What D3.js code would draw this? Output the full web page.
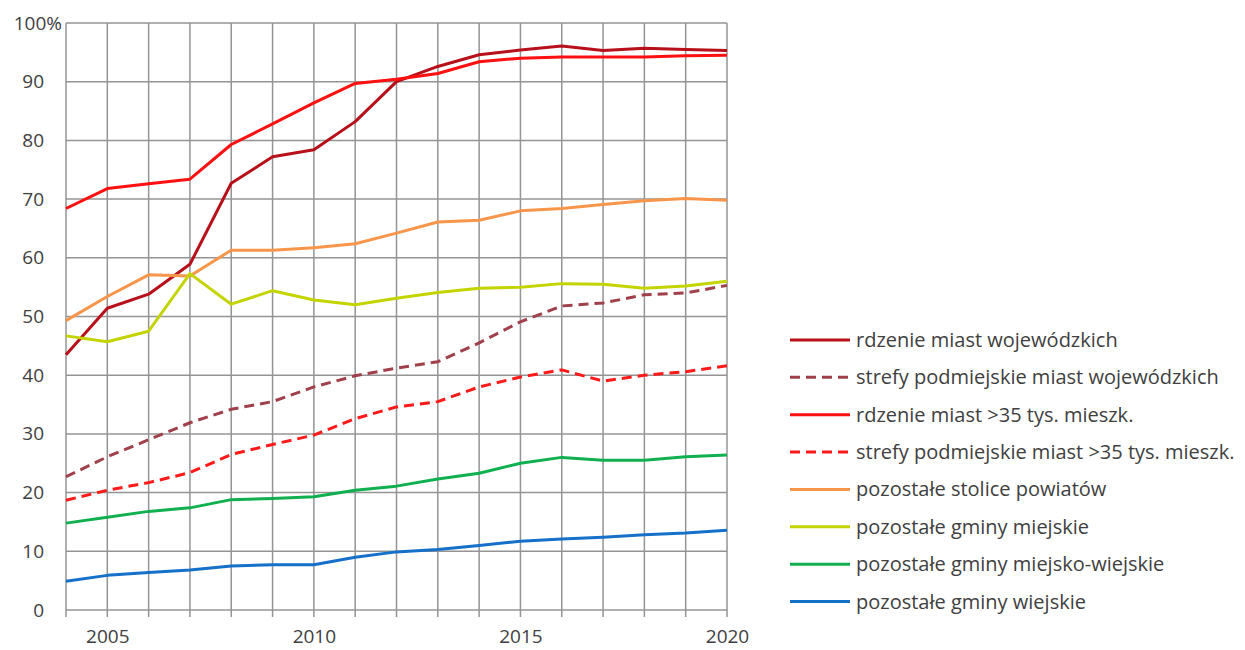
<!DOCTYPE html>
<html><head><meta charset="utf-8">
<script src="https://cdn.jsdelivr.net/npm/d3@7"></script>
<style>
html,body{margin:0;padding:0;background:#fff;}
svg{display:block;}
text{font-family:"Open Sans",sans-serif;fill:#404040;}
</style></head>
<body>
<svg id="chart" width="1245" height="650"></svg>
<script>
const years = d3.range(2004, 2021);
const seriesNames = [
  "rdzenie miast wojewódzkich",
  "strefy podmiejskie miast wojewódzkich",
  "rdzenie miast >35 tys. mieszk.",
  "strefy podmiejskie miast >35 tys. mieszk.",
  "pozostałe stolice powiatów",
  "pozostałe gminy miejskie",
  "pozostałe gminy miejsko-wiejskie",
  "pozostałe gminy wiejskie"
];
const rdzenieWoj   = [43.5,51.4,53.8,58.9,72.7,77.2,78.4,83.2,90.0,92.6,94.6,95.4,96.1,95.3,95.7,95.5,95.3];
const strefyWoj    = [22.7,26.1,29.0,31.9,34.2,35.5,38.0,39.9,41.2,42.3,45.5,49.1,51.8,52.3,53.7,54.0,55.3];
const rdzenie35    = [68.4,71.8,72.6,73.4,79.3,82.8,86.4,89.7,90.4,91.4,93.4,94.0,94.2,94.2,94.2,94.4,94.5];
const strefy35     = [18.7,20.4,21.7,23.4,26.5,28.2,29.8,32.6,34.6,35.5,38.0,39.7,40.9,39.0,40.0,40.6,41.6];
const stolicePow   = [49.3,53.4,57.1,56.9,61.3,61.3,61.7,62.4,64.2,66.1,66.4,68.0,68.4,69.1,69.7,70.1,69.8];
const gminyMiejskie= [46.7,45.7,47.5,57.3,52.1,54.4,52.8,52.0,53.1,54.1,54.8,55.0,55.6,55.5,54.8,55.2,56.0];
const gminyMW      = [14.8,15.8,16.8,17.4,18.8,19.0,19.3,20.4,21.1,22.3,23.3,25.0,26.0,25.5,25.5,26.1,26.4];
const gminyWiejskie= [4.9,5.9,6.4,6.8,7.5,7.7,7.7,9.0,9.9,10.3,11.0,11.7,12.1,12.4,12.8,13.1,13.6];
const seriesValues = [rdzenieWoj,strefyWoj,rdzenie35,strefy35,stolicePow,gminyMiejskie,gminyMW,gminyWiejskie];
const seriesColors = ["#B8101A","#A0404A","#FF1010","#FF1A1A","#F7964A","#C4D400","#10B050","#1470C8"];
const seriesDashed = [false,true,false,true,false,false,false,false];
const yTicks = [0,10,20,30,40,50,60,70,80,90,100];
const xLabelYears = [2005,2010,2015,2020];

const svg = d3.select("#chart");
const L = 66, R = 727, T = 23, B = 610;
const x = d3.scaleLinear().domain([2004,2020]).range([L,R]);
const y = d3.scaleLinear().domain([0,100]).range([B,T]);

// grid
const g = svg.append("g");
g.selectAll("line.h").data(yTicks).enter().append("line")
  .attr("x1",L).attr("x2",R).attr("y1",d=>y(d)).attr("y2",d=>y(d))
  .attr("stroke","#949494").attr("stroke-width",1.5);
g.selectAll("line.v").data(years).enter().append("line")
  .attr("x1",d=>x(d)).attr("x2",d=>x(d)).attr("y1",T).attr("y2",B+7)
  .attr("stroke","#949494").attr("stroke-width",1.5);

// axes labels
const yAxis = d3.axisLeft(y).tickValues(yTicks).tickSize(0).tickPadding(22)
  .tickFormat(d => d===100 ? "100%" : d);
const ya = svg.append("g").attr("transform",`translate(${L},0)`).call(yAxis);
ya.select(".domain").remove();
ya.selectAll("text").style("font-size","19px").attr("fill","#404040")
  .style("font-family","'Open Sans', sans-serif");
ya.selectAll(".tick").filter(d=>d===100).select("text").attr("dx",18);

const xAxis = d3.axisBottom(x).tickValues(xLabelYears).tickSize(0).tickPadding(20).tickFormat(d3.format("d"));
const xa = svg.append("g").attr("transform",`translate(0,${B})`).call(xAxis);
xa.select(".domain").remove();
xa.selectAll("text").style("font-size","19px").attr("fill","#404040")
  .style("font-family","'Open Sans', sans-serif");

// lines
const line = d3.line().x((d,i)=>x(years[i])).y(d=>y(d));
seriesValues.forEach((vals,k)=>{
  svg.append("path").datum(vals).attr("d",line)
    .attr("fill","none").attr("stroke",seriesColors[k])
    .attr("stroke-width",3).attr("stroke-linejoin","round")
    .attr("stroke-dasharray",seriesDashed[k]?"10,6":null);
});

// legend
const leg = svg.append("g");
const rowY = d3.scaleLinear().domain([0,7]).range([340,601.5]);
seriesNames.forEach((name,k)=>{
  const yy = rowY(k);
  leg.append("line").attr("x1",790).attr("x2",850).attr("y1",yy).attr("y2",yy)
    .attr("stroke",seriesColors[k]).attr("stroke-width",3)
    .attr("stroke-dasharray",seriesDashed[k]?"10,6":null);
  leg.append("text").attr("x",856).attr("y",yy).attr("dy","0.35em")
    .style("font-size","20px").text(name);
});
</script>
</body></html>
